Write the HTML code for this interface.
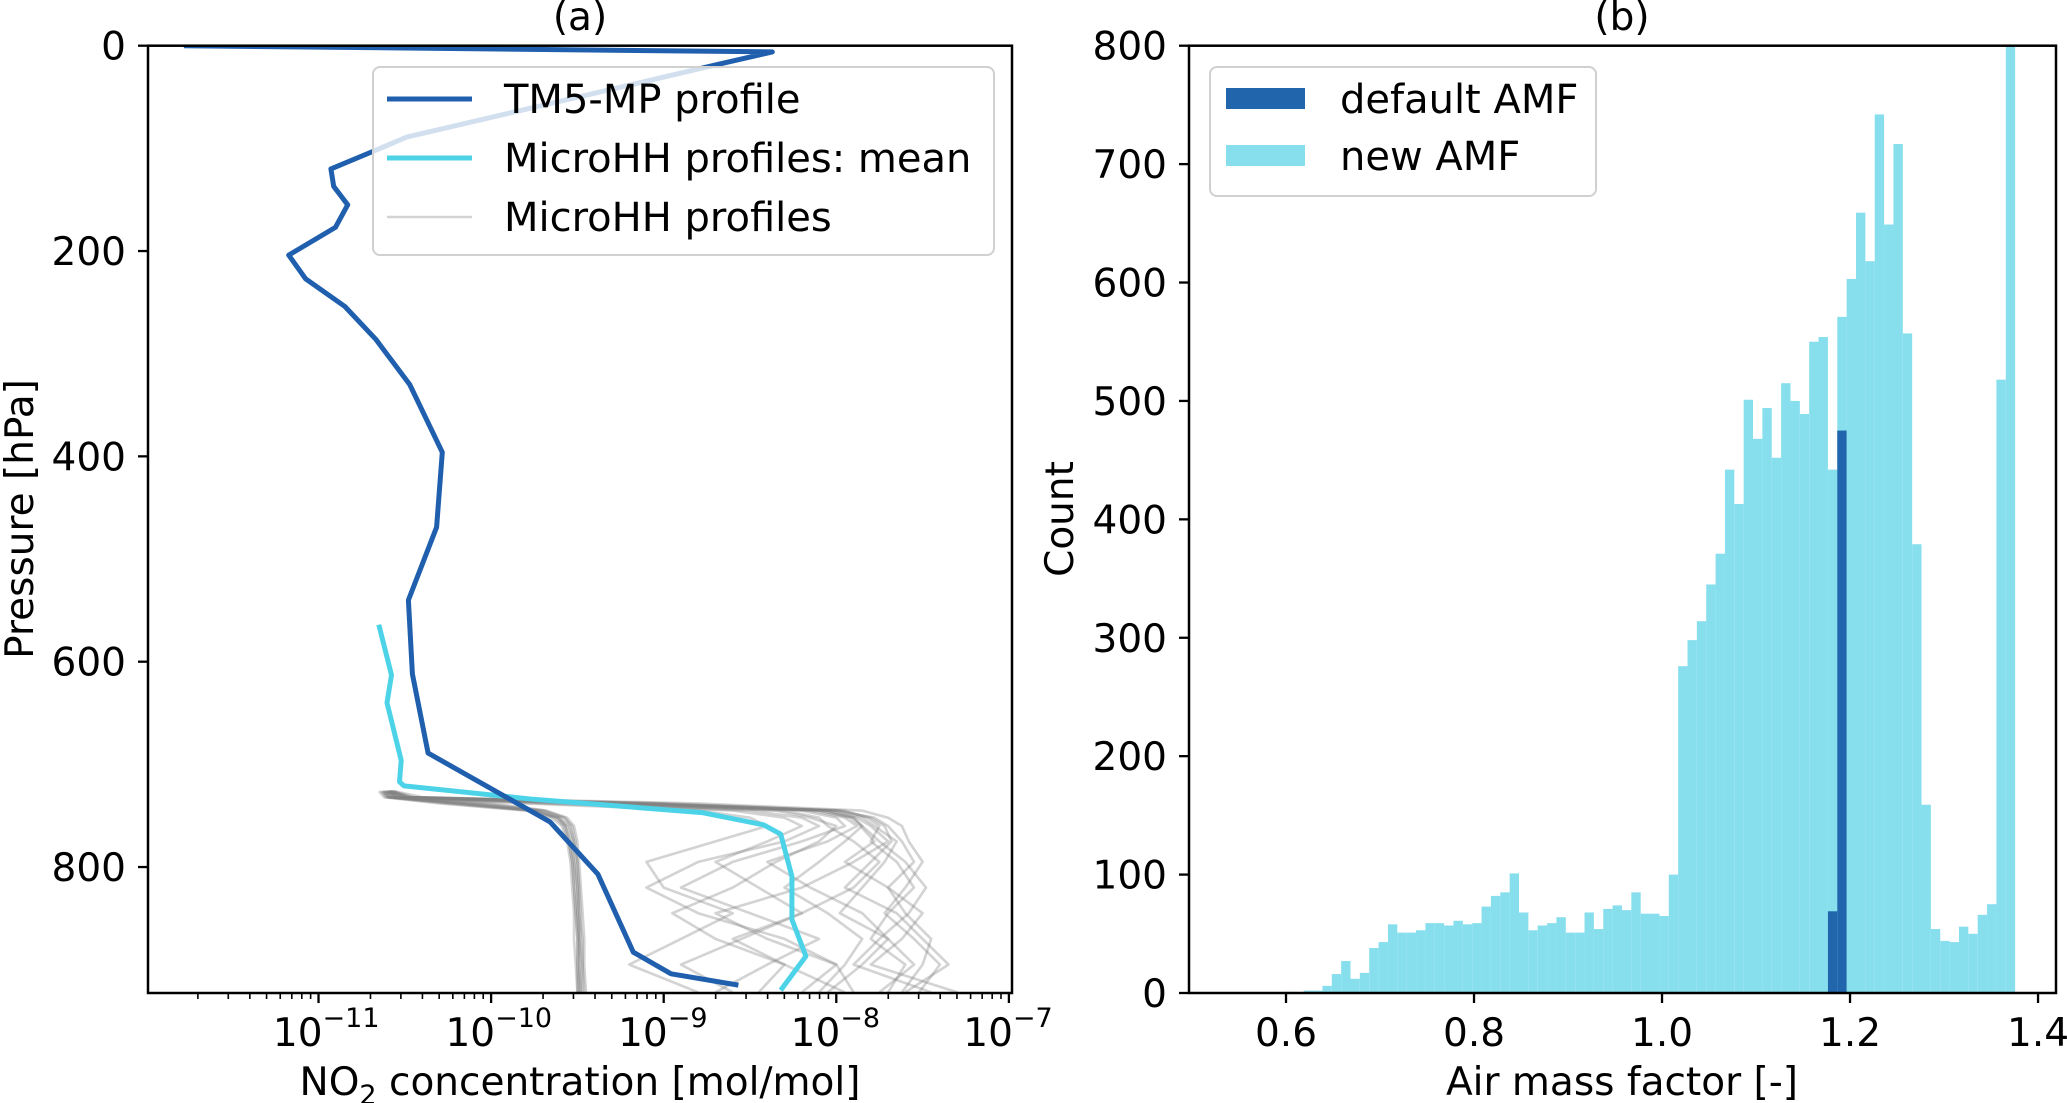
<!DOCTYPE html>
<html><head><meta charset="utf-8"><style>
html,body{margin:0;padding:0;background:#fff;}
svg{display:block;font-family:"DejaVu Sans","Liberation Sans",sans-serif;}
</style></head><body>
<svg id="fig" width="2067" height="1103" viewBox="0 0 2067 1103" xmlns="http://www.w3.org/2000/svg">
<g id="pa"></g>
<g id="pb"></g>
</svg>
<script>
// ---------- Panel (a) data ----------
const tm5Log = [-11.78,-8.371,-8.681,-10.489,-10.70,-10.928,-10.912,-10.831,-10.902,-11.173,-11.075,-10.847,-10.668,-10.472,-10.283,-10.316,-10.479,-10.456,-10.365,-9.658,-9.381,-9.176,-8.958,-8.567];
const tm5P   = [0,6,18,89,104,120,137,155,177,204,227,254,286,330,396,469,540,612,689,756,807,883,904,915];
const meanLog = [-10.651,-10.577,-10.603,-10.521,-10.531,-10.505,-9.756,-8.779,-8.420,-8.322,-8.257,-8.257,-8.176,-8.322];
const meanP   = [564,613,640,696,717,721,734,747,759,768,809,851,887,920];
// individual MicroHH profiles: concentration (log10) at shared pressure levels
const profP = [726,732,738,745,752,760,775,795,820,845,870,895,922];
const profLogs = [
 [-10.62,-10.60,-10.2,-9.75,-9.62,-9.57,-9.54,-9.52,-9.51,-9.50,-9.49,-9.49,-9.48],
 [-10.60,-10.58,-10.1,-9.70,-9.58,-9.53,-9.51,-9.50,-9.49,-9.48,-9.48,-9.47,-9.47],
 [-10.65,-10.62,-10.3,-9.80,-9.65,-9.59,-9.56,-9.54,-9.53,-9.52,-9.52,-9.51,-9.50],
 [-10.58,-10.55,-10.0,-9.68,-9.56,-9.52,-9.50,-9.49,-9.48,-9.47,-9.46,-9.46,-9.45],
 [-10.63,-10.61,-10.25,-9.78,-9.63,-9.58,-9.55,-9.53,-9.52,-9.51,-9.50,-9.50,-9.49],
 [-10.61,-10.59,-10.15,-9.72,-9.60,-9.55,-9.52,-9.51,-9.50,-9.49,-9.49,-9.48,-9.48],
 [-10.64,-10.60,-10.22,-9.76,-9.61,-9.56,-9.53,-9.52,-9.50,-9.50,-9.49,-9.49,-9.49],
 [-10.59,-10.56,-10.05,-9.69,-9.57,-9.54,-9.52,-9.50,-9.49,-9.49,-9.47,-9.47,-9.46],
 [-10.62,-10.59,-10.18,-9.74,-9.61,-9.57,-9.55,-9.53,-9.52,-9.51,-9.50,-9.50,-9.50],
 [-10.59,-10.50,-9.1,-8.0,-7.78,-7.70,-7.62,-7.55,-7.70,-7.60,-7.45,-7.50,-7.62],
 [-10.57,-10.45,-9.0,-7.95,-7.82,-7.75,-7.80,-7.65,-7.55,-7.70,-7.80,-7.60,-7.70],
 [-10.60,-10.52,-9.3,-8.1,-7.90,-7.85,-7.95,-8.10,-8.30,-8.05,-7.85,-7.95,-8.10],
 [-10.56,-10.40,-8.8,-7.85,-7.70,-7.62,-7.58,-7.50,-7.60,-7.72,-7.55,-7.40,-7.52],
 [-10.61,-10.55,-9.4,-8.2,-8.0,-7.95,-8.20,-8.60,-8.90,-8.50,-8.10,-8.40,-8.70],
 [-10.58,-10.48,-9.2,-8.05,-7.88,-7.80,-7.70,-7.90,-8.20,-8.70,-8.40,-8.00,-7.90],
 [-10.62,-10.56,-9.6,-8.5,-8.2,-8.10,-8.30,-8.80,-9.10,-8.80,-8.30,-8.00,-8.20],
 [-10.57,-10.46,-9.0,-7.98,-7.80,-7.72,-7.68,-7.80,-7.95,-7.65,-7.50,-7.35,-7.60],
 [-10.60,-10.53,-9.5,-8.3,-8.1,-8.05,-7.90,-7.75,-7.90,-8.20,-8.60,-8.30,-7.95],
 [-10.59,-10.51,-9.25,-8.15,-7.95,-7.88,-8.05,-8.40,-8.15,-7.85,-7.70,-7.85,-8.05],
 [-10.63,-10.58,-9.7,-8.6,-8.3,-8.2,-8.4,-8.70,-8.45,-8.20,-8.55,-8.90,-8.60],
 [-10.58,-10.47,-9.1,-8.0,-7.85,-7.78,-7.65,-7.72,-7.85,-7.98,-7.70,-7.55,-7.75],
 [-10.60,-10.54,-9.8,-8.8,-8.5,-8.4,-8.7,-9.10,-9.00,-8.60,-8.90,-9.20,-8.80],
 [-10.59,-10.49,-9.15,-8.05,-7.90,-7.85,-7.75,-7.60,-7.48,-7.58,-7.75,-7.90,-7.45],
 [-10.61,-10.55,-9.45,-8.35,-8.15,-8.00,-8.10,-8.35,-8.60,-8.95,-8.70,-8.30,-8.45],
 [-10.58,-10.50,-9.2,-8.10,-7.92,-7.86,-7.78,-7.95,-7.70,-7.50,-7.62,-7.80,-7.30]
];
const aYTicks = [0,200,400,600,800];
const aXTicks = [-11,-10,-9,-8,-7];

// ---------- Panel (b) data ----------
const binStart = 0.5989, binWidth = 0.009958;
const newCounts = [1,0,2,2,6,16,27,12,17,38,43,58,51,51,53,59,59,57,61,58,59,73,82,85,101,68,53,57,59,64,51,51,68,54,71,74,70,85,67,67,65,100,276,298,314,345,371,442,413,501,468,494,452,515,500,489,550,554,442,571,603,659,618,742,649,717,557,379,159,54,44,43,56,50,66,75,518,850];
const defBins = [58,59];
const defCounts = [69,475];
const bYTicks = [0,100,200,300,400,500,600,700,800];
const bXTicks = [0.6,0.8,1.0,1.2,1.4];

const NS="http://www.w3.org/2000/svg";
function mk(parent,tag,attrs,name,inter){const e=document.createElementNS(NS,tag);for(const k in attrs)e.setAttribute(k,attrs[k]);


parent.appendChild(e);return e;}

const FS=39, LFS=40;
// ---------- Panel a ----------
const pa=document.getElementById('pa');
const aL=148,aR=1012,aT=45.7,aB=993;
const lxLo=-11.988,lxHi=-6.982,pLo=0,pHi=922.7;
const ax=v=>aL+(v-lxLo)/(lxHi-lxLo)*(aR-aL);
const ay=p=>aT+(p-pLo)/(pHi-pLo)*(aB-aT);
const clip=mk(pa,'clipPath',{id:'ca'},'clip-a',false);
mk(clip,'rect',{x:aL,y:aT,width:aR-aL,height:aB-aT},'clip-rect',false);
const gp=mk(pa,'g',{'clip-path':'url(#ca)'},'plot-area-a',false);
profLogs.forEach((pr,i)=>{
  const d=pr.map((v,j)=>(j?'L':'M')+ax(v).toFixed(1)+' '+ay(profP[j]).toFixed(1)).join(' ');
  mk(gp,'path',{d:d,fill:'none',stroke:'#808080','stroke-opacity':0.35,'stroke-width':2.6,'stroke-linejoin':'round'},'microhh-profile',false);
});
const lineD=(xs,ps)=>xs.map((v,j)=>(j?'L':'M')+ax(v).toFixed(1)+' '+ay(ps[j]).toFixed(1)).join(' ');
mk(gp,'path',{d:lineD(meanLog,meanP),fill:'none',stroke:'#4dd3e8','stroke-width':5,'stroke-linejoin':'round'},'microhh-mean-line',false);
mk(gp,'path',{d:lineD(tm5Log,tm5P),fill:'none',stroke:'#1f5fad','stroke-width':5,'stroke-linejoin':'round'},'tm5-line',false);
// legend a
const lga=mk(pa,'g',{},'legend-a',false);
mk(lga,'rect',{x:373,y:67,width:621,height:188,rx:7,fill:'#fff','fill-opacity':0.8,stroke:'#d0d0d0','stroke-width':2},'legend-a-box',false);
const legA=[['TM5-MP profile','#1f5fad',1,5,99],['MicroHH profiles: mean','#4dd3e8',1,5,158],['MicroHH profiles','#808080',0.35,2.6,217]];
legA.forEach(l=>{
  mk(lga,'line',{x1:387,x2:472,y1:l[4],y2:l[4],stroke:l[1],'stroke-opacity':l[2],'stroke-width':l[3]},'legend-entry-line',false);
  const t=mk(lga,'text',{x:504,y:l[4]+14,'font-size':LFS,fill:'#000'},'legend-entry-label',false);t.textContent=l[0];
});
// axes a
mk(pa,'rect',{x:aL,y:aT,width:aR-aL,height:aB-aT,fill:'none',stroke:'#000','stroke-width':2.5},'axes-frame-a',false);
aYTicks.forEach(v=>{const y=ay(v);
  mk(pa,'line',{x1:aL-10,x2:aL,y1:y,y2:y,stroke:'#000','stroke-width':2.3},'y-tick-a',false);
  const t=mk(pa,'text',{x:aL-22,y:y+14,'font-size':FS,'text-anchor':'end'},'y-tick-label-a',false);t.textContent=v;});
for(let dec=-12;dec<=-7;dec++){for(let m=2;m<=9;m++){const v=dec+Math.log10(m);if(v<lxLo||v>lxHi)continue;const x=ax(v);
  mk(pa,'line',{x1:x,x2:x,y1:aB,y2:aB+6,stroke:'#000','stroke-width':1.6},'x-minor-tick-a',false);}}
aXTicks.forEach(v=>{const x=ax(v);
  mk(pa,'line',{x1:x,x2:x,y1:aB,y2:aB+10,stroke:'#000','stroke-width':2.3},'x-tick-a',false);
  const t=mk(pa,'text',{x:x+4,y:1046,'font-size':FS,'text-anchor':'end'},'x-tick-label-a',false);t.textContent='10';
  const s=mk(pa,'text',{x:x+4,y:1027,'font-size':27},'x-tick-exponent-a',false);s.textContent='\u2212'+(-v);});
let t=mk(pa,'text',{x:580,y:1095,'font-size':FS,'text-anchor':'middle'},'x-axis-title-a',false);
t.innerHTML='NO<tspan font-size="27" dy="9">2</tspan><tspan dy="-9"> concentration [mol/mol]</tspan>';
t=mk(pa,'text',{x:0,y:0,'font-size':FS,'text-anchor':'middle',transform:'translate(33,519) rotate(-90)'},'y-axis-title-a',false);t.textContent='Pressure [hPa]';
t=mk(pa,'text',{x:580,y:30,'font-size':FS,'text-anchor':'middle'},'panel-a-title',false);t.textContent='(a)';

// ---------- Panel b ----------
const pb=document.getElementById('pb');
const bL=1189,bR=2056,bT=45.7,bB=993;
const xLo=0.4968,xHi=1.4191,cHi=800;
const bx=v=>bL+(v-xLo)/(xHi-xLo)*(bR-bL);
const by=c=>bB-c/cHi*(bB-bT);
const clipb=mk(pb,'clipPath',{id:'cb'},'clip-b',false);
mk(clipb,'rect',{x:bL,y:bT,width:bR-bL,height:bB-bT},'clip-rect',false);
const gb=mk(pb,'g',{'clip-path':'url(#cb)'},'plot-area-b',false);
newCounts.forEach((c,i)=>{if(c<=0)return;const x0=bx(binStart+i*binWidth),x1=bx(binStart+(i+1)*binWidth);
  mk(gb,'rect',{x:x0,y:by(c),width:x1-x0,height:bB-by(c),fill:'#87dfee'},'new-amf-bar',false);});
defBins.forEach((b,i)=>{const x0=bx(binStart+b*binWidth),x1=bx(binStart+(b+1)*binWidth);
  mk(gb,'rect',{x:x0,y:by(defCounts[i]),width:x1-x0,height:bB-by(defCounts[i]),fill:'#2166ac'},'default-amf-bar',false);});
const lgb=mk(pb,'g',{},'legend-b',false);
mk(lgb,'rect',{x:1210,y:67,width:386,height:129,rx:7,fill:'#fff','fill-opacity':0.8,stroke:'#d0d0d0','stroke-width':2},'legend-b-box',false);
[['default AMF','#2166ac',88],['new AMF','#87dfee',145]].forEach(l=>{
  mk(lgb,'rect',{x:1226,y:l[2],width:79,height:21,fill:l[1]},'legend-entry-swatch',false);
  const tt=mk(lgb,'text',{x:1340,y:l[2]+25,'font-size':LFS},'legend-entry-label',false);tt.textContent=l[0];});
mk(pb,'rect',{x:bL,y:bT,width:bR-bL,height:bB-bT,fill:'none',stroke:'#000','stroke-width':2.5},'axes-frame-b',false);
bYTicks.forEach(v=>{const y=by(v);
  mk(pb,'line',{x1:bL-10,x2:bL,y1:y,y2:y,stroke:'#000','stroke-width':2.3},'y-tick-b',false);
  const tt=mk(pb,'text',{x:bL-22,y:y+14,'font-size':FS,'text-anchor':'end'},'y-tick-label-b',false);tt.textContent=v;});
bXTicks.forEach(v=>{const x=bx(v);
  mk(pb,'line',{x1:x,x2:x,y1:bB,y2:bB+10,stroke:'#000','stroke-width':2.3},'x-tick-b',false);
  const tt=mk(pb,'text',{x:x,y:1046,'font-size':FS,'text-anchor':'middle'},'x-tick-label-b',false);tt.textContent=v.toFixed(1);});
t=mk(pb,'text',{x:1622,y:1095,'font-size':FS,'text-anchor':'middle'},'x-axis-title-b',false);t.textContent='Air mass factor [-]';
t=mk(pb,'text',{x:0,y:0,'font-size':FS,'text-anchor':'middle',transform:'translate(1073,519) rotate(-90)'},'y-axis-title-b',false);t.textContent='Count';
t=mk(pb,'text',{x:1622,y:30,'font-size':FS,'text-anchor':'middle'},'panel-b-title',false);t.textContent='(b)';
</script>
</body></html>
